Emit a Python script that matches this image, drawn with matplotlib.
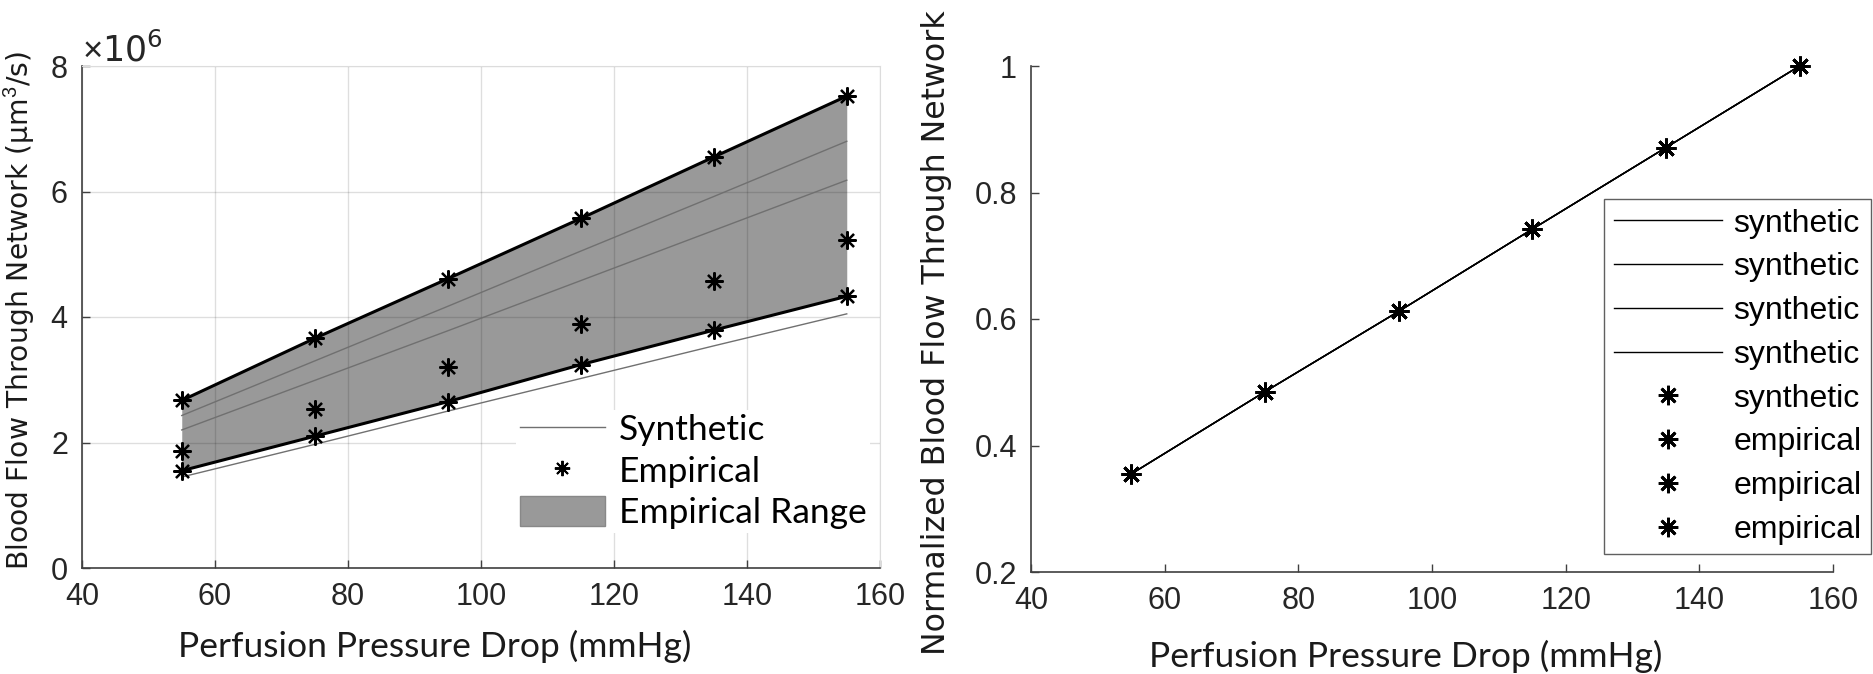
import numpy as np
import matplotlib
matplotlib.use('Agg')
import matplotlib.pyplot as plt
from matplotlib.lines import Line2D
from matplotlib.patches import Patch

# pressure drops (mmHg)
pressure = [55, 75, 95, 115, 135, 155]

# blood flow, units of 1e6 um^3/s
emp_upper = [2.67, 3.66, 4.61, 5.57, 6.55, 7.52]
emp_middle = [1.87, 2.53, 3.21, 3.89, 4.57, 5.23]
emp_lower = [1.55, 2.10, 2.65, 3.24, 3.79, 4.33]
syn_a = [2.43, 3.30, 4.17, 5.05, 5.92, 6.80]
syn_b = [2.20, 2.99, 3.78, 4.58, 5.38, 6.18]
syn_c = [1.45, 1.97, 2.50, 3.02, 3.54, 4.05]

# normalized flow (right panel)
norm_flow = [0.355, 0.485, 0.612, 0.742, 0.871, 1.0]

right_labels = ['synthetic'] * 5 + ['empirical'] * 3

W, H = 1873, 674
fig = plt.figure(figsize=(W / 100, H / 100), dpi=100)
plt.rcParams['mathtext.fontset'] = 'custom'
plt.rcParams['mathtext.rm'] = 'Liberation Sans'

tick_font = dict(family='Liberation Sans', size=22, color='#262626')
label_font = dict(family='Lato', size=25.5, color='#1a1a1a')
star = (8, 2, 0)
axis_gray = '#404040'


def style_axes(ax):
  for s in ['left', 'bottom']:
    ax.spines[s].set_color(axis_gray)
    ax.spines[s].set_linewidth(1.2)
  ax.tick_params(direction='in', length=6, width=1, color=axis_gray, pad=10,
                 labelsize=tick_font['size'], labelcolor=tick_font['color'])
  for lab in ax.get_xticklabels() + ax.get_yticklabels():
    lab.set_family(tick_font['family'])


# ---- left panel
ax1 = fig.add_axes([82 / W, 1 - 568 / H, 798 / W, 502 / H])
x = np.array(pressure)
up = np.array(emp_upper) * 1e6
lo = np.array(emp_lower) * 1e6
ax1.fill_between(x, lo, up, color='#999999', linewidth=0, zorder=1)
for s in [syn_a, syn_b, syn_c]:
  ax1.plot(x, np.array(s) * 1e6, color='#707070', lw=1, zorder=2)
ax1.plot(x, up, color='black', lw=2.2, zorder=3)
ax1.plot(x, lo, color='black', lw=2.2, zorder=3)
for s in [up, lo, np.array(emp_middle) * 1e6]:
  ax1.plot(x, s, linestyle='none', marker=star, ms=13, mew=1.6, color='black',
           zorder=4, clip_on=False)

ax1.set_xlim(40, 160)
ax1.set_ylim(0, 8e6)
ax1.set_xticks(range(40, 161, 20))
ax1.set_yticks(np.arange(0, 8.1e6, 2e6))
ax1.ticklabel_format(axis='y', style='sci', scilimits=(6, 6), useMathText=True)
ax1.yaxis.get_offset_text().set_fontsize(25)
ax1.yaxis.get_offset_text().set_color('#262626')
ax1.grid(True, color='black', alpha=0.13, lw=1)
ax1.set_axisbelow('line')
for s in ['top', 'right']:
  ax1.spines[s].set_color('#dcdcdc')
style_axes(ax1)

handles = [Line2D([], [], color='#707070', lw=1),
           Line2D([], [], linestyle='none', marker=star, ms=11, mew=1.4, color='black'),
           Patch(facecolor='#999999', edgecolor='#888888')]
leg1 = ax1.legend(handles, ['Synthetic', 'Empirical', 'Empirical Range'],
                  loc='upper left', bbox_to_anchor=(516 / W, 1 - 410 / H),
                  bbox_transform=fig.transFigure, borderaxespad=0, borderpad=0.1,
                  handlelength=2.4, handleheight=0.9, handletextpad=0.4,
                  labelspacing=0.24, prop=dict(family='Lato', size=25.5),
                  facecolor='white', edgecolor='none', framealpha=1, fancybox=False)

fig.text(435 / W, 1 - 657 / H, 'Perfusion Pressure Drop (mmHg)', ha='center',
         va='baseline', **label_font)
fig.text(19 / W, 1 - 310 / H, 'Blood Flow Through Network (\u00b5m$^3$/s)', rotation=90,
         ha='center', va='center', family='DejaVu Sans', size=20.3, color='#1a1a1a')

# ---- right panel
ax2 = fig.add_axes([1031 / W, 1 - 572 / H, 802 / W, 506 / H])
series = []
for i in range(4):
  series.append(ax2.plot(pressure, norm_flow, color='black', lw=1)[0])
for i in range(4):
  series.append(ax2.plot(pressure, norm_flow, linestyle='none', marker=star,
                         ms=14, mew=2, color='black', clip_on=False)[0])
ax2.set_xlim(40, 160)
ax2.set_ylim(0.2, 1)
ax2.set_xticks(range(40, 161, 20))
ax2.set_yticks([0.2, 0.4, 0.6, 0.8, 1.0], ['0.2', '0.4', '0.6', '0.8', '1'])
for s in ['top', 'right']:
  ax2.spines[s].set_visible(False)
style_axes(ax2)

leg2 = ax2.legend(series, right_labels, loc='upper left',
                  bbox_to_anchor=(1604 / W, 1 - 199 / H), bbox_transform=fig.transFigure,
                  borderaxespad=0, borderpad=0.3, handlelength=3.4, handletextpad=0.35,
                  labelspacing=0.43, prop=dict(family='Liberation Sans', size=23),
                  facecolor='white', edgecolor='#606060', framealpha=1, fancybox=False)
leg2.get_frame().set_linewidth(1)

fig.text(1406 / W, 1 - 667 / H, 'Perfusion Pressure Drop (mmHg)', ha='center',
         va='baseline', **label_font)
fig.text(936 / W, 1 - 333 / H, 'Normalized Blood Flow Through Network', rotation=90,
         ha='center', va='center', family='DejaVu Sans', size=22.8, color='#1a1a1a')

fig.savefig('out.png', dpi=100)
